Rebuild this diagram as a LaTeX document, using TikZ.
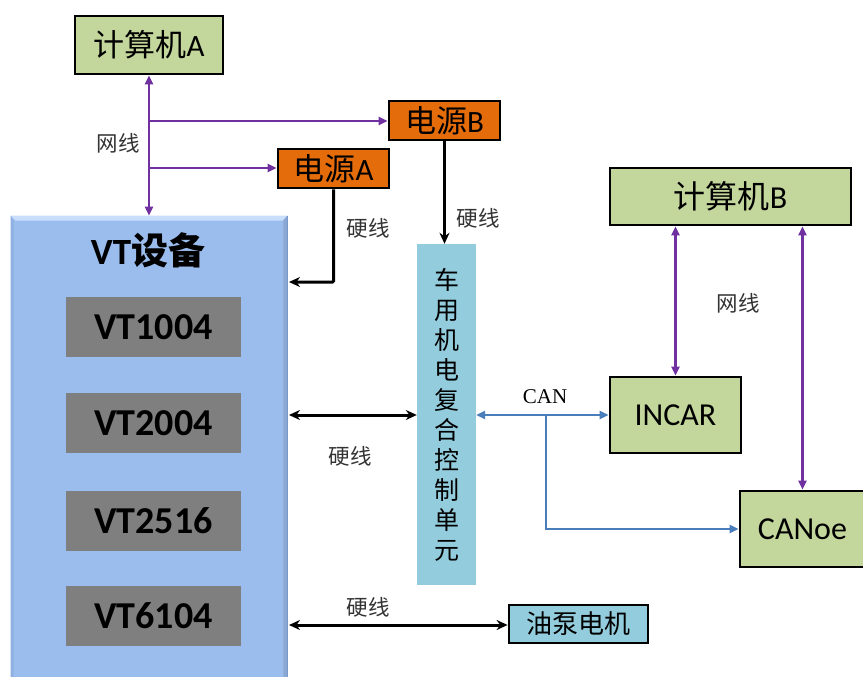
\documentclass[tikz,border=0pt]{standalone}
\usepackage{fontspec}
\setmainfont{Carlito}
\newfontfamily\cjk{Noto Sans CJK SC}
\newfontfamily\serifl{Liberation Serif}
\usetikzlibrary{arrows.meta,calc}
\definecolor{boxgreen}{RGB}{195,214,155}
\definecolor{boxorange}{RGB}{228,108,10}
\definecolor{boxcyan}{RGB}{147,205,221}
\definecolor{boxgray}{RGB}{127,127,127}
\definecolor{vtblue}{RGB}{155,189,238}
\definecolor{vtlight}{RGB}{200,222,250}
\definecolor{vtdark}{RGB}{110,145,200}
\definecolor{netpurple}{RGB}{112,48,160}
\definecolor{canblue}{RGB}{74,126,187}
\begin{document}
\begin{tikzpicture}[x=1pt,y=-1pt,
  greenbox/.style={draw=black,line width=2.8pt,fill=boxgreen,inner sep=0pt},
  orangebox/.style={draw=black,line width=2.8pt,fill=boxorange,inner sep=0pt},
  graybox/.style={fill=boxgray,inner sep=0pt,minimum width=175pt,minimum height=60pt,font=\fontsize{38}{42}\selectfont\bfseries},
  lbl/.style={font=\fontsize{21.5}{24}\cjk,inner sep=0pt,text=black!80},
  netline/.style={draw=netpurple,line width=2.5pt,{Triangle[length=9pt,width=8pt]}-{Triangle[length=9pt,width=8pt]}},
  netone/.style={draw=netpurple,line width=2.5pt,-{Triangle[length=9pt,width=8pt]}},
  hardline/.style={draw=black,line width=3pt,-{Stealth[length=11pt,width=10pt]}},
  hardtwo/.style={draw=black,line width=3pt,{Stealth[length=11pt,width=10pt]}-{Stealth[length=11pt,width=10pt]}},
  canline/.style={draw=canblue,line width=2.5pt,-{Triangle[length=9pt,width=8pt]}},
  cantwo/.style={draw=canblue,line width=2.5pt,{Triangle[length=9pt,width=8pt]}-{Triangle[length=9pt,width=8pt]}}]
\useasboundingbox (0,0) rectangle (863,677);

% nodes
\node[greenbox,minimum width=148pt,minimum height=58pt,font=\fontsize{31}{34}\selectfont] (compA) at (149,45) {{\cjk 计算机}A};
\node[orangebox,minimum width=111pt,minimum height=39pt,font=\fontsize{31}{34}\selectfont] (powB) at (444.5,120.5) {{\cjk 电源}B};
\node[orangebox,minimum width=111pt,minimum height=39pt,font=\fontsize{31}{34}\selectfont] (powA) at (333.5,168.5) {{\cjk 电源}A};

% VT box
\node[fill=vtblue,draw=vtdark,line width=0.8pt,minimum width=276pt,minimum height=470pt,inner sep=0pt] (vt) at (149,451) {};
\fill[vtlight] (vt.north west) -- (vt.north east) -- ([xshift=-5pt,yshift=-5pt]vt.north east) -- ([xshift=5pt,yshift=-5pt]vt.north west) -- cycle;
\fill[vtdark!80] (vt.north east) -- (vt.south east) -- ([xshift=-4pt]vt.south east) -- ([xshift=-4pt,yshift=-5pt]vt.north east) -- cycle;
\fill[vtblue!70!vtdark] (vt.north west) -- (vt.south west) -- ([xshift=3pt]vt.south west) -- ([xshift=3pt,yshift=-5pt]vt.north west) -- cycle;
\node[font=\fontsize{37}{40}\selectfont\bfseries,inner sep=0pt] (vttitle) at (148,250) {VT{\cjk 设备}};
\node[graybox] (vt1) at (153.5,327) {VT1004};
\node[graybox] (vt2) at (153.5,423) {VT2004};
\node[graybox] (vt3) at (153.5,521) {VT2516};
\node[graybox] (vt4) at (153.5,616) {VT6104};

% control unit
\node[fill=boxcyan,minimum width=59pt,minimum height=341pt,inner sep=0pt] (ctrl) at (446.5,414.5) {};
\node[font=\fontsize{25}{30}\cjk,align=center,inner sep=0pt] (ctrltext) at (446.5,414.5) {车\\用\\机\\电\\复\\合\\控\\制\\单\\元};

\node[greenbox,minimum width=131pt,minimum height=76pt,font=\fontsize{32}{36}\selectfont] (incar) at (675.5,415) {INCAR};
\node[greenbox,minimum width=125pt,minimum height=76pt,font=\fontsize{32}{36}\selectfont] (canoe) at (802.5,529) {CANoe};
\node[greenbox,minimum width=241pt,minimum height=57pt,font=\fontsize{32}{36}\selectfont] (compB) at (730.5,196.5) {{\cjk 计算机}B};
\node[draw=black,line width=2.8pt,fill=boxcyan,minimum width=139pt,minimum height=38pt,inner sep=0pt,font=\fontsize{26}{30}\cjk] (pump) at (578.5,624) {油泵电机};

% coordinates
\coordinate (jB) at (149,121);
\coordinate (jA) at (149,168);
\coordinate (vtA) at (289,282);
\coordinate (vtC) at (289,415);
\coordinate (vtP) at (289,625);
\coordinate (canj) at (546,415);

% network lines
\draw[netline] (compA.south) -- (compA.south |- vt.north);
\draw[netone] (jB) -- (powB.west |- jB);
\draw[netone] (jA) -- (powA.west |- jA);
\draw[netline] (incar.north) -- (incar.north |- compB.south);
\draw[netline] (canoe.north) -- (canoe.north |- compB.south);

% hard lines
\draw[hardline,rounded corners=1pt] (powA.south) |- (vtA);
\draw[hardline] (powB.south) -- (powB.south |- ctrl.north);
\draw[hardtwo] (vtC) -- (ctrl.west |- vtC);
\draw[hardtwo] (vtP) -- (pump.west |- vtP);

% CAN lines
\draw[cantwo] (ctrl.east |- canj) -- (incar.west |- canj);
\draw[canline] (canj) |- (canoe.west);

% labels
\node[lbl] (l1) at (118,143) {网线};
\node[lbl] (l2) at (368,228) {硬线};
\node[lbl] (l3) at (478,218) {硬线};
\node[lbl] (l4) at (350,456) {硬线};
\node[font=\fontsize{21}{24}\serifl,inner sep=0pt] (l5) at (545,397) {CAN};
\node[lbl] (l6) at (738,303) {网线};
\node[lbl] (l7) at (368,607) {硬线};
\end{tikzpicture}
\end{document}
